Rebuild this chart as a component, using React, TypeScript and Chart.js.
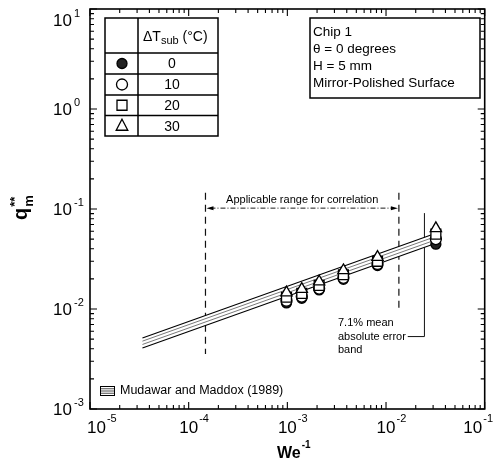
import React, { useEffect, useRef } from "react";
import { Chart, registerables } from "chart.js";
Chart.register(...registerables);

// ---- data ----
const weInv = [9.8e-4, 1.4e-3, 2.1e-3, 3.7e-3, 8.2e-3, 3.2e-2];
const q0 = [0.0115, 0.0128, 0.0155, 0.0198, 0.0272, 0.0445];
const q10 = [0.0121, 0.0133, 0.016, 0.0205, 0.0282, 0.05];
const q20 = [0.0131, 0.0143, 0.0172, 0.022, 0.030, 0.056];
const q30 = [0.0146, 0.0158, 0.0188, 0.0243, 0.033, 0.064];

const bandX = [3.4e-5, 2.9e-2];
const bandUpper = [0.00513, 0.0552];
const bandInner1 = [0.00477, 0.0513];
const bandInner2 = [0.00442, 0.0475];
const bandLower = [0.00407, 0.0438];

const rangeX = [1.48e-4, 1.35e-2];
const rangeTop = [0.145, 0.145];
const rangeBottom = [0.00355, 0.0102];
const arrowY = 0.102;
const leaderX = [0.0166, 0.0245];
const leaderY = [0.091, 0.0053];

const xDecades = [-5, -4, -3, -2, -1];
const yDecades = [-3, -2, -1, 0, 1];
const subcoolLabels = ["0", "10", "20", "30"];
const infoLines = ["Chip 1", "\u03b8 = 0 degrees", "H = 5 mm", "Mirror-Polished Surface"];
const legendLabel = "Mudawar and Maddox (1989)";
const rangeLabel = "Applicable range for correlation";
const errorLabel = ["7.1% mean", "absolute error", "band"];

const FONT = "'Liberation Sans', Arial, Helvetica, sans-serif";

const pts = (xs: number[], ys: number[]) => xs.map((x, i) => ({ x, y: ys[i] }));

function drawMarker(ctx: CanvasRenderingContext2D, kind: string, x: number, y: number) {
  ctx.save();
  ctx.lineWidth = 1.3;
  ctx.strokeStyle = "#000";
  ctx.beginPath();
  if (kind === "filled") {
    ctx.arc(x, y, 5, 0, Math.PI * 2);
    ctx.fillStyle = "#222";
    ctx.fill();
    ctx.stroke();
  } else if (kind === "circle") {
    ctx.arc(x, y, 5.5, 0, Math.PI * 2);
    ctx.fillStyle = "#fff";
    ctx.fill();
    ctx.stroke();
  } else if (kind === "rect") {
    ctx.rect(x - 5, y - 5, 10, 10);
    ctx.fillStyle = "#fff";
    ctx.fill();
    ctx.stroke();
  } else {
    ctx.moveTo(x, y - 6.5);
    ctx.lineTo(x + 5.8, y + 4.5);
    ctx.lineTo(x - 5.8, y + 4.5);
    ctx.closePath();
    ctx.fillStyle = "#fff";
    ctx.fill();
    ctx.stroke();
  }
  ctx.restore();
}

const annotPlugin = {
  id: "annot",
  beforeDatasetsDraw(chart: any) {
    const { ctx, scales } = chart;
    const xs = scales.x, ys = scales.y;
    ctx.save();
    ctx.strokeStyle = "#111";
    ctx.lineWidth = 1.2;
    ctx.setLineDash([7, 5]);
    for (let i = 0; i < 2; i++) {
      const px = xs.getPixelForValue(rangeX[i]);
      ctx.beginPath();
      ctx.moveTo(px, ys.getPixelForValue(rangeTop[i]));
      ctx.lineTo(px, ys.getPixelForValue(rangeBottom[i]));
      ctx.stroke();
    }
    ctx.setLineDash([]);
    ctx.lineWidth = 1;
    ctx.beginPath();
    ctx.moveTo(xs.getPixelForValue(leaderX[1]), ys.getPixelForValue(leaderY[0]));
    ctx.lineTo(xs.getPixelForValue(leaderX[1]), ys.getPixelForValue(leaderY[1]));
    ctx.lineTo(xs.getPixelForValue(leaderX[0]), ys.getPixelForValue(leaderY[1]));
    ctx.stroke();
    ctx.restore();
  },
  afterDraw(chart: any) {
    const { ctx, chartArea, scales } = chart;
    const xs = scales.x, ys = scales.y;
    const { left, right, top, bottom } = chartArea;
    ctx.save();

    // frame
    ctx.strokeStyle = "#000";
    ctx.lineWidth = 1.6;
    ctx.strokeRect(left, top, right - left, bottom - top);

    // ticks (inward, all sides)
    ctx.lineWidth = 1.1;
    ctx.beginPath();
    for (let d = -5; d < -1 + 1; d++) {
      for (let m = 1; m <= 9; m++) {
        const v = m * Math.pow(10, d);
        if (v > 0.1 * 1.0001) continue;
        const px = xs.getPixelForValue(v);
        const len = m === 1 ? 7 : 4;
        ctx.moveTo(px, bottom);
        ctx.lineTo(px, bottom - len);
        ctx.moveTo(px, top);
        ctx.lineTo(px, top + len);
      }
    }
    for (let d = -3; d <= 1; d++) {
      for (let m = 1; m <= 9; m++) {
        const v = m * Math.pow(10, d);
        if (v > 10 * 1.0001) continue;
        const py = ys.getPixelForValue(v);
        const len = m === 1 ? 7 : 4;
        ctx.moveTo(left, py);
        ctx.lineTo(left + len, py);
        ctx.moveTo(right, py);
        ctx.lineTo(right - len, py);
      }
    }
    ctx.stroke();

    // tick labels
    ctx.fillStyle = "#000";
    ctx.textBaseline = "middle";
    for (const d of yDecades) {
      let py = ys.getPixelForValue(Math.pow(10, d));
      if (py < 20) py = 20;
      ctx.font = `17px ${FONT}`;
      ctx.textAlign = "right";
      ctx.fillText("10", 72, py + 1);
      ctx.font = `11px ${FONT}`;
      ctx.textAlign = "left";
      ctx.fillText(String(d), 74, py - 6);
    }
    for (const d of xDecades) {
      const px = xs.getPixelForValue(Math.pow(10, d));
      ctx.font = `17px ${FONT}`;
      const w1 = ctx.measureText("10").width;
      ctx.font = `11px ${FONT}`;
      const w2 = ctx.measureText(String(d)).width;
      let lx = px - w1 / 2;
      lx = Math.max(lx, 87);
      lx = Math.min(lx, 493 - w1 - 1 - w2);
      ctx.textAlign = "left";
      ctx.font = `17px ${FONT}`;
      ctx.fillText("10", lx, 428);
      ctx.font = `11px ${FONT}`;
      ctx.fillText(String(d), lx + w1 + 1, 419);
    }

    // axis titles
    ctx.textBaseline = "alphabetic";
    ctx.textAlign = "left";
    ctx.font = `bold 16px ${FONT}`;
    ctx.fillText("We", 277, 458);
    const wWe = ctx.measureText("We").width;
    ctx.font = `bold 10px ${FONT}`;
    ctx.fillText("-1", 277 + wWe + 1, 448);

    ctx.save();
    ctx.translate(27, 220);
    ctx.rotate(-Math.PI / 2);
    ctx.font = `bold 20px ${FONT}`;
    ctx.fillText("q", 0, 0);
    const wq = ctx.measureText("q").width;
    ctx.font = `bold 13px ${FONT}`;
    ctx.fillText("m", wq + 1, 6);
    ctx.fillText("**", wq + 1, -8);
    ctx.restore();

    // range annotation
    const x0 = xs.getPixelForValue(rangeX[0]);
    const x1 = xs.getPixelForValue(rangeX[1]);
    const ay = ys.getPixelForValue(arrowY);
    ctx.font = `11px ${FONT}`;
    ctx.textAlign = "center";
    ctx.textBaseline = "middle";
    ctx.fillText(rangeLabel, (x0 + x1) / 2, 200);
    ctx.lineWidth = 0.9;
    ctx.setLineDash([5, 2, 1, 2]);
    ctx.beginPath();
    ctx.moveTo(x0 + 5, ay);
    ctx.lineTo(x1 - 5, ay);
    ctx.stroke();
    ctx.setLineDash([]);
    ctx.beginPath();
    ctx.moveTo(x0 + 1, ay);
    ctx.lineTo(x0 + 8, ay - 2);
    ctx.lineTo(x0 + 8, ay + 2);
    ctx.closePath();
    ctx.moveTo(x1 - 1, ay);
    ctx.lineTo(x1 - 8, ay - 2);
    ctx.lineTo(x1 - 8, ay + 2);
    ctx.closePath();
    ctx.fill();

    // error band text
    ctx.textAlign = "left";
    errorLabel.forEach((t, i) => ctx.fillText(t, 338, 323 + i * 13.5));

    // legend (bottom)
    ctx.lineWidth = 1;
    ctx.strokeRect(100.5, 386.5, 14, 9);
    ctx.beginPath();
    for (let k = 1; k < 4; k++) {
      ctx.moveTo(101, 386.5 + k * 2.25);
      ctx.lineTo(114, 386.5 + k * 2.25);
    }
    ctx.lineWidth = 0.7;
    ctx.stroke();
    ctx.font = `12.5px ${FONT}`;
    ctx.fillText(legendLabel, 120, 391);

    // table
    const tx0 = 105, tx1 = 218, tcol = 138;
    const rows = [18, 53, 74, 95, 115.5, 136];
    ctx.fillStyle = "#fff";
    ctx.fillRect(tx0, rows[0], tx1 - tx0, rows[5] - rows[0]);
    ctx.fillStyle = "#000";
    ctx.lineWidth = 1.5;
    ctx.strokeRect(tx0, rows[0], tx1 - tx0, rows[5] - rows[0]);
    ctx.beginPath();
    ctx.moveTo(tcol, rows[0]);
    ctx.lineTo(tcol, rows[5]);
    for (let r = 1; r < 5; r++) {
      ctx.moveTo(tx0, rows[r]);
      ctx.lineTo(tx1, rows[r]);
    }
    ctx.stroke();
    ctx.font = `14px ${FONT}`;
    ctx.textAlign = "left";
    let hx = 143;
    ctx.fillText("\u0394T", hx, 37);
    hx += ctx.measureText("\u0394T").width;
    ctx.font = `11px ${FONT}`;
    ctx.fillText("sub", hx, 41);
    hx += ctx.measureText("sub").width;
    ctx.font = `14px ${FONT}`;
    ctx.fillText(" (\u00b0C)", hx, 37);
    const kinds = ["filled", "circle", "rect", "triangle"];
    ctx.textAlign = "center";
    ctx.font = `14px ${FONT}`;
    for (let r = 0; r < 4; r++) {
      const cy = (rows[r + 1] + rows[r + 2]) / 2;
      ctx.fillStyle = "#000";
      ctx.fillText(subcoolLabels[r], 172, cy + 1);
      drawMarker(ctx, kinds[r], 122, cy);
    }

    // info box
    ctx.fillStyle = "#000";
    ctx.lineWidth = 1.5;
    ctx.strokeRect(310, 18, 170, 80);
    ctx.font = `13.5px ${FONT}`;
    ctx.textAlign = "left";
    const ly = [32, 49.5, 66, 83];
    infoLines.forEach((t, i) => ctx.fillText(t, 313, ly[i]));

    ctx.restore();
  },
};

export default function App() {
  const ref = useRef<HTMLCanvasElement>(null);
  useEffect(() => {
    if (!ref.current) return;
    const lineDs = (ys: number[], color: string, w: number, order: number, extra: any = {}) => ({
      data: pts(bandX, ys),
      showLine: true,
      borderColor: color,
      borderWidth: w,
      pointRadius: 0,
      order,
      ...extra,
    });
    const chart = new Chart(ref.current, {
      type: "scatter",
      data: {
        datasets: [
          { data: pts(weInv, q30), pointStyle: "triangle", pointRadius: 6.5, backgroundColor: "#fff", borderColor: "#000", borderWidth: 1.3, order: 0 },
          { data: pts(weInv, q20), pointStyle: "rect", pointRadius: 7, backgroundColor: "#fff", borderColor: "#000", borderWidth: 1.3, order: 1 },
          { data: pts(weInv, q10), pointStyle: "circle", pointRadius: 5.5, backgroundColor: "#fff", borderColor: "#000", borderWidth: 1.3, order: 2 },
          { data: pts(weInv, q0), pointStyle: "circle", pointRadius: 5, backgroundColor: "#222", borderColor: "#000", borderWidth: 1.3, order: 3 },
          lineDs(bandInner1, "#555", 0.8, 4),
          lineDs(bandInner2, "#555", 0.8, 5),
          lineDs(bandUpper, "#000", 1.1, 6),
          lineDs(bandLower, "#000", 1.1, 7, { fill: "-1", backgroundColor: "#fff" }),
        ] as any,
      },
      options: {
        animation: false,
        responsive: false,
        devicePixelRatio: 1,
        layout: { padding: { left: 90, right: 3, top: 9, bottom: 60 } },
        plugins: { legend: { display: false }, tooltip: { enabled: false } },
        scales: {
          x: { type: "logarithmic", min: 1e-5, max: 1e-1, display: false },
          y: { type: "logarithmic", min: 1e-3, max: 10, display: false },
        },
      },
      plugins: [annotPlugin],
    });
    return () => chart.destroy();
  }, []);
  return (
    <div style={{ position: "absolute", left: 0, top: 0, width: 493, height: 469, background: "#fff" }}>
      <canvas ref={ref} width={493} height={469} style={{ display: "block" }} />
    </div>
  );
}
